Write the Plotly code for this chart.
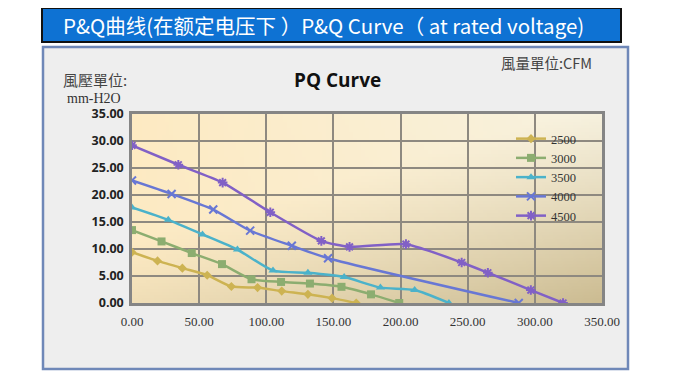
import base64
import struct
import zlib

import plotly.graph_objects as go

# ---------------- data ----------------
series_names = ["2500", "3000", "3500", "4000", "4500"]

q2500 = [0, 19, 37.5, 56, 74, 93.5, 111.5, 131, 149, 167]
p2500 = [9.4, 7.8, 6.45, 5.15, 3.05, 2.85, 2.2, 1.6, 0.9, 0]

q3000 = [0, 22, 44.5, 67, 89, 111, 132.5, 156, 178, 199]
p3000 = [13.5, 11.4, 9.25, 7.2, 4.4, 3.9, 3.6, 3.0, 1.6, 0]

q3500 = [0, 27, 52.5, 78.5, 105, 131, 158, 185, 210.5, 236]
p3500 = [17.7, 15.4, 12.7, 9.9, 6.0, 5.6, 4.8, 2.85, 2.4, 0]

q4000 = [0, 29.5, 60.5, 88, 119, 146, 288]
p4000 = [22.7, 20.2, 17.3, 13.4, 10.6, 8.3, 0]

q4500 = [0, 34.5, 67.5, 103, 141, 162, 204, 245.5, 265, 297, 321]
p4500 = [29.2, 25.6, 22.3, 16.8, 11.5, 10.4, 10.9, 7.5, 5.6, 2.4, 0]

x_ticks = [0, 50, 100, 150, 200, 250, 300, 350]
y_ticks = [0, 5, 10, 15, 20, 25, 30, 35]

bar_title = "P&Q曲线(在额定电压下 ）P&Q Curve（ at rated voltage)"
chart_title = "PQ Curve"
y_unit_1 = "風壓單位:"
y_unit_2 = "mm-H2O"
x_unit = "風量單位:CFM"

# ---------------- styles ----------------
colors = ["#CDB352", "#8CAD70", "#4BB2CA", "#6877D4", "#8160C6"]
symbols = ["diamond", "square", "triangle-up", "x-thin-open", "asterisk-open"]
sizes = [7, 8, 8, 8, 8]


# ---------------- gradient background image ----------------
def make_png(w, h):
    rows = []
    for j in range(h):
        v = j / (h - 1)
        row = bytearray([0])
        for i in range(w):
            u = i / (w - 1)
            c0 = (253, 234, 194)
            c1 = (247, 242, 224)
            base = [c0[k] + (c1[k] - c0[k]) * u for k in range(3)]
            base = [base[k] + ((250, 232, 196)[k] - base[k]) * 0.35 * v for k in range(3)]
            d = (u * 0.55 + v * 0.75 - 0.5) / 0.8
            d = max(0.0, min(1.0, d)) ** 1.2
            dark = (204, 188, 146)
            col = [int(round(base[k] + (dark[k] - base[k]) * d)) for k in range(3)]
            row.extend(col)
        rows.append(bytes(row))
    raw = b"".join(rows)

    def chunk(tag, data):
        c = struct.pack(">I", len(data)) + tag + data
        return c + struct.pack(">I", zlib.crc32(tag + data) & 0xFFFFFFFF)

    png = b"\x89PNG\r\n\x1a\n"
    png += chunk(b"IHDR", struct.pack(">IIBBBBB", w, h, 8, 2, 0, 0, 0))
    png += chunk(b"IDAT", zlib.compress(raw, 9))
    png += chunk(b"IEND", b"")
    return "data:image/png;base64," + base64.b64encode(png).decode()


bg_src = make_png(120, 60)

# ---------------- figure ----------------
OFF = 8  # page body margin
W, H = 680 - 2 * OFF, 380 - 2 * OFF
L, R, T, B = 132 - OFF, 602 - OFF, 114 - OFF, 303 - OFF


def px(x):
    return (x - OFF - L) / (R - L)


def py(y):
    return (B - (y - OFF)) / (B - T)


fig = go.Figure()

all_q = [q2500, q3000, q3500, q4000, q4500]
all_p = [p2500, p3000, p3500, p4000, p4500]

for name, q, p, c, s, sz in zip(series_names, all_q, all_p, colors, symbols, sizes):
    fig.add_trace(
        go.Scatter(
            x=q,
            y=p,
            name=name,
            mode="lines+markers",
            line=dict(color=c, width=2.5, shape="spline", smoothing=0.6),
            marker=dict(symbol=s, size=sz, color=c, line=dict(color=c, width=2 if "open" in s else 0)),
        )
    )

fig.update_layout(
    width=W,
    height=H,
    margin=dict(l=L, r=W - R, t=T, b=H - B, pad=0),
    paper_bgcolor="white",
    plot_bgcolor="rgba(0,0,0,0)",
    showlegend=True,
    legend=dict(
        x=px(511),
        y=py(124),
        xanchor="left",
        yanchor="top",
        bgcolor="rgba(0,0,0,0)",
        font=dict(family="Liberation Serif", size=12.5, color="#333333"),
        itemwidth=30,
        tracegroupgap=0,
    ),
    xaxis=dict(
        range=[0, 350],
        tickvals=x_ticks,
        ticktext=[f"{v:.2f}" for v in x_ticks],
        showgrid=True,
        gridcolor="#8E8980",
        gridwidth=1.5,
        zeroline=False,
        showline=True,
        linecolor="#858585",
        linewidth=2.5,
        mirror=True,
        ticks="",
        ticklabelstandoff=5,
        tickfont=dict(family="Liberation Serif", size=13, color="#333333"),
        fixedrange=True,
    ),
    yaxis=dict(
        range=[0, 35],
        tickvals=y_ticks,
        ticktext=[f"{v:.2f}" for v in y_ticks],
        showgrid=True,
        gridcolor="#8E8980",
        gridwidth=1.5,
        zeroline=False,
        showline=True,
        linecolor="#858585",
        linewidth=2.5,
        mirror=True,
        ticks="",
        ticklabelstandoff=3,
        tickfont=dict(family="Open Sans", size=12.5, color="#222222", weight="bold"),
        fixedrange=True,
    ),
    images=[
        dict(
            source=bg_src,
            xref="x",
            yref="y",
            x=0,
            y=35,
            sizex=350,
            sizey=35,
            sizing="stretch",
            layer="below",
            xanchor="left",
            yanchor="top",
        )
    ],
    shapes=[
        dict(
            type="rect",
            xref="paper",
            yref="paper",
            x0=px(43),
            x1=px(628),
            y0=py(369),
            y1=py(47),
            fillcolor="#EEEEEE",
            line=dict(color="#6F88B8", width=2.5),
            layer="below",
        ),
        dict(
            type="rect",
            xref="paper",
            yref="paper",
            x0=px(42),
            x1=px(621),
            y0=py(42),
            y1=py(8),
            fillcolor="#0E72D3",
            line=dict(color="#111111", width=2),
            layer="below",
        ),
    ],
    annotations=[
        dict(
            text=bar_title,
            xref="paper",
            yref="paper",
            x=px(323),
            y=py(25),
            xanchor="center",
            yanchor="middle",
            showarrow=False,
            font=dict(family="Noto Sans CJK SC", size=20.5, color="white"),
        ),
        dict(
            text=chart_title,
            xref="paper",
            yref="paper",
            x=px(337),
            y=py(80),
            xanchor="center",
            yanchor="middle",
            showarrow=False,
            font=dict(family="Open Sans", size=19, color="#111111", weight="bold"),
        ),
        dict(
            text=y_unit_1,
            xref="paper",
            yref="paper",
            x=px(61),
            y=py(79),
            xanchor="left",
            yanchor="middle",
            showarrow=False,
            font=dict(family="Noto Sans CJK TC", size=15, color="#444444"),
        ),
        dict(
            text=y_unit_2,
            xref="paper",
            yref="paper",
            x=px(65),
            y=py(98),
            xanchor="left",
            yanchor="middle",
            showarrow=False,
            font=dict(family="Liberation Serif", size=14, color="#333333"),
        ),
        dict(
            text=x_unit,
            xref="paper",
            yref="paper",
            x=px(499),
            y=py(62),
            xanchor="left",
            yanchor="middle",
            showarrow=False,
            font=dict(family="Noto Sans CJK TC", size=14.5, color="#444444"),
        ),
    ],
)

fig.write_html("out.html", config={"displayModeBar": False})
